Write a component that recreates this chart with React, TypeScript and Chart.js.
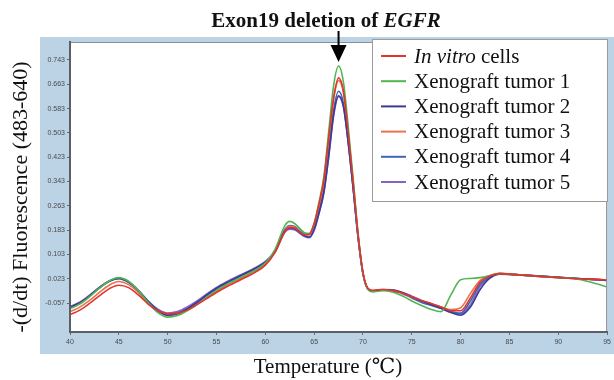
import React, { useEffect, useRef } from "react";
import { Chart, registerables } from "chart.js";

Chart.register(...registerables);

const temps = [40, 41, 42, 43, 44, 45, 46, 47, 48, 49, 50, 51, 52, 53, 54, 55, 56, 57, 58, 59, 60, 61, 62, 62.5, 63, 64, 64.5, 65, 65.5, 66, 66.5, 67, 67.5, 68, 68.5, 69, 69.5, 70, 70.5, 71, 72, 73, 74, 75, 76, 77, 78, 79, 80, 81, 82, 83, 84, 86, 88, 90, 92, 94, 95];

const inVitro = [-0.095, -0.080, -0.058, -0.033, -0.010, 0.002, -0.006, -0.030, -0.060, -0.082, -0.092, -0.090, -0.080, -0.062, -0.042, -0.022, -0.004, 0.012, 0.028, 0.045, 0.068, 0.110, 0.178, 0.192, 0.190, 0.168, 0.170, 0.205, 0.270, 0.350, 0.490, 0.620, 0.684, 0.640, 0.500, 0.340, 0.170, 0.045, -0.008, -0.015, -0.012, -0.015, -0.024, -0.036, -0.048, -0.058, -0.070, -0.082, -0.082, -0.040, 0.012, 0.032, 0.040, 0.036, 0.031, 0.027, 0.023, 0.021, 0.019];

const tumor1 = [-0.075, -0.060, -0.036, -0.008, 0.016, 0.027, 0.015, -0.015, -0.055, -0.088, -0.103, -0.098, -0.082, -0.062, -0.038, -0.015, 0.004, 0.020, 0.036, 0.052, 0.075, 0.120, 0.198, 0.212, 0.205, 0.175, 0.172, 0.205, 0.275, 0.360, 0.510, 0.660, 0.723, 0.670, 0.520, 0.350, 0.170, 0.040, -0.012, -0.020, -0.016, -0.020, -0.033, -0.050, -0.065, -0.078, -0.085, -0.030, 0.020, 0.024, 0.027, 0.033, 0.040, 0.036, 0.031, 0.027, 0.022, 0.006, -0.004];

const tumor2 = [-0.070, -0.056, -0.033, -0.006, 0.016, 0.025, 0.013, -0.016, -0.052, -0.082, -0.097, -0.092, -0.076, -0.055, -0.030, -0.008, 0.010, 0.026, 0.042, 0.058, 0.078, 0.115, 0.180, 0.190, 0.188, 0.165, 0.160, 0.185, 0.240, 0.310, 0.430, 0.565, 0.625, 0.590, 0.470, 0.320, 0.160, 0.040, -0.010, -0.018, -0.013, -0.014, -0.022, -0.036, -0.050, -0.062, -0.074, -0.088, -0.097, -0.070, -0.012, 0.025, 0.038, 0.036, 0.032, 0.028, 0.024, 0.020, 0.017];

const tumor3 = [-0.085, -0.070, -0.048, -0.022, 0.002, 0.014, 0.004, -0.022, -0.056, -0.082, -0.095, -0.092, -0.080, -0.060, -0.038, -0.018, 0.000, 0.016, 0.032, 0.048, 0.070, 0.112, 0.182, 0.196, 0.193, 0.168, 0.168, 0.200, 0.262, 0.340, 0.480, 0.615, 0.675, 0.635, 0.495, 0.335, 0.165, 0.042, -0.010, -0.017, -0.013, -0.015, -0.024, -0.037, -0.050, -0.060, -0.070, -0.078, -0.072, -0.025, 0.018, 0.034, 0.041, 0.036, 0.031, 0.027, 0.023, 0.021, 0.019];

const tumor4 = [-0.072, -0.058, -0.035, -0.008, 0.014, 0.024, 0.012, -0.015, -0.050, -0.080, -0.095, -0.090, -0.075, -0.055, -0.032, -0.010, 0.008, 0.024, 0.040, 0.055, 0.075, 0.115, 0.185, 0.198, 0.195, 0.170, 0.168, 0.195, 0.250, 0.320, 0.450, 0.580, 0.640, 0.600, 0.470, 0.320, 0.160, 0.040, -0.010, -0.018, -0.014, -0.015, -0.025, -0.040, -0.055, -0.065, -0.075, -0.085, -0.090, -0.050, 0.005, 0.030, 0.040, 0.036, 0.032, 0.028, 0.024, 0.020, 0.018];

const tumor5 = [-0.068, -0.054, -0.031, -0.005, 0.015, 0.023, 0.011, -0.016, -0.050, -0.077, -0.090, -0.085, -0.070, -0.050, -0.027, -0.005, 0.013, 0.029, 0.044, 0.060, 0.080, 0.112, 0.176, 0.186, 0.184, 0.162, 0.158, 0.182, 0.238, 0.305, 0.425, 0.560, 0.622, 0.588, 0.468, 0.318, 0.158, 0.040, -0.010, -0.018, -0.012, -0.013, -0.021, -0.034, -0.048, -0.060, -0.072, -0.085, -0.093, -0.062, -0.002, 0.028, 0.039, 0.036, 0.032, 0.028, 0.024, 0.021, 0.018];

const seriesNames = ["In vitro cells", "Xenograft tumor 1", "Xenograft tumor 2", "Xenograft tumor 3", "Xenograft tumor 4", "Xenograft tumor 5"];
const seriesValues = [inVitro, tumor1, tumor2, tumor3, tumor4, tumor5];
const seriesColors = ["#e0352e", "#52b552", "#3d3a96", "#e8744f", "#3f66b6", "#8465c2"];

const yTicks = [-0.057, 0.023, 0.103, 0.183, 0.263, 0.343, 0.423, 0.503, 0.583, 0.663, 0.743];
const xTicks = [40, 45, 50, 55, 60, 65, 70, 75, 80, 85, 90, 95];

const titleText = "Exon19 deletion of ";
const titleItalic = "EGFR";
const xTitle = "Temperature (\u2103)";
const yTitle = "-(d/dt) Fluorescence (483-640)";
const arrowTemp = 67.5;

const SERIF = "'Liberation Serif', 'DejaVu Serif', serif";

const decorPlugin = {
  id: "decor",
  beforeDraw(chart: any) {
    const { ctx, chartArea } = chart;
    ctx.save();
    ctx.fillStyle = "#ffffff";
    ctx.fillRect(0, 0, chart.width, chart.height);
    ctx.fillStyle = "#bcd3e6";
    ctx.fillRect(40, 37, chart.width - 40, 317);
    ctx.fillStyle = "#ffffff";
    ctx.fillRect(chartArea.left, chartArea.top, chartArea.right - chartArea.left, chartArea.bottom - chartArea.top);
    ctx.restore();
  },
  afterDraw(chart: any) {
    const { ctx, chartArea, scales } = chart;
    ctx.save();
    // plot border
    ctx.strokeStyle = "#8a9099";
    ctx.lineWidth = 1;
    ctx.strokeRect(chartArea.left + 0.5, chartArea.top + 0.5, chartArea.right - chartArea.left - 1, chartArea.bottom - chartArea.top - 1);
    ctx.strokeStyle = "#5a5f66";
    ctx.lineWidth = 2;
    ctx.beginPath();
    ctx.moveTo(chartArea.left, chartArea.top);
    ctx.lineTo(chartArea.left, chartArea.bottom);
    ctx.lineTo(chartArea.right, chartArea.bottom);
    ctx.stroke();

    // title
    ctx.fillStyle = "#111";
    ctx.textBaseline = "alphabetic";
    ctx.font = `bold 21px ${SERIF}`;
    const w1 = ctx.measureText(titleText).width;
    ctx.font = `italic bold 21px ${SERIF}`;
    const w2 = ctx.measureText(titleItalic).width;
    const tx = 326 - (w1 + w2) / 2;
    ctx.font = `bold 21px ${SERIF}`;
    ctx.textAlign = "left";
    ctx.fillText(titleText, tx, 27);
    ctx.font = `italic bold 21px ${SERIF}`;
    ctx.fillText(titleItalic, tx + w1, 27);

    // arrow
    const ax = scales.x.getPixelForValue(arrowTemp);
    ctx.strokeStyle = "#000";
    ctx.lineWidth = 2;
    ctx.beginPath();
    ctx.moveTo(ax, 31);
    ctx.lineTo(ax, 47);
    ctx.stroke();
    ctx.fillStyle = "#000";
    ctx.beginPath();
    ctx.moveTo(ax - 8, 45);
    ctx.lineTo(ax + 8, 45);
    ctx.lineTo(ax, 62);
    ctx.closePath();
    ctx.fill();

    // legend
    const lx = 372, ly = 39, lw = 236, lh = 163;
    ctx.fillStyle = "#ffffff";
    ctx.fillRect(lx, ly, lw, lh);
    ctx.strokeStyle = "#9a9a9a";
    ctx.lineWidth = 1;
    ctx.strokeRect(lx + 0.5, ly + 0.5, lw - 1, lh - 1);
    ctx.textBaseline = "middle";
    ctx.textAlign = "left";
    seriesNames.forEach((name, i) => {
      const cy = 56 + i * 25.2;
      ctx.strokeStyle = seriesColors[i];
      ctx.lineWidth = 2;
      ctx.beginPath();
      ctx.moveTo(381, cy);
      ctx.lineTo(406, cy);
      ctx.stroke();
      ctx.fillStyle = "#111";
      if (i === 0) {
        ctx.font = `italic 21px ${SERIF}`;
        const it = "In vitro";
        ctx.fillText(it, 414, cy + 1);
        const iw = ctx.measureText(it).width;
        ctx.font = `21px ${SERIF}`;
        ctx.fillText(" cells", 414 + iw, cy + 1);
      } else {
        ctx.font = `21px ${SERIF}`;
        ctx.fillText(name, 414, cy + 1);
      }
    });

    // axis titles
    ctx.fillStyle = "#111";
    ctx.textAlign = "center";
    ctx.textBaseline = "middle";
    ctx.font = `21px ${SERIF}`;
    ctx.fillText(xTitle, 328, 367);
    ctx.translate(21, 197);
    ctx.rotate(-Math.PI / 2);
    ctx.font = `22px ${SERIF}`;
    ctx.fillText(yTitle, 0, 0);
    ctx.restore();
  },
};

export default function App() {
  const ref = useRef<HTMLCanvasElement | null>(null);
  useEffect(() => {
    if (!ref.current) return;
    const datasets = seriesValues.map((vals, i) => ({
      label: seriesNames[i],
      data: temps.map((t, j) => ({ x: t, y: vals[j] })),
      borderColor: seriesColors[i],
      backgroundColor: seriesColors[i],
      borderWidth: 1.6,
      pointRadius: 0,
      cubicInterpolationMode: "monotone" as const,
      fill: false,
    }));
    const chart = new Chart(ref.current, {
      type: "line",
      data: { datasets },
      options: {
        animation: false,
        responsive: false,
        devicePixelRatio: 1,
        layout: { padding: { left: 40, top: 42, right: 3, bottom: 28 } },
        plugins: { legend: { display: false }, tooltip: { enabled: false }, title: { display: false } },
        scales: {
          x: {
            type: "linear",
            min: 40,
            max: 95,
            afterBuildTicks: (scale: any) => {
              scale.ticks = xTicks.map((v) => ({ value: v }));
            },
            afterFit: (scale: any) => {
              scale.height = 20;
            },
            ticks: {
              color: "#4a4a4a",
              font: { size: 7, family: "'Liberation Sans', Arial, sans-serif" },
              padding: 3,
              maxRotation: 0,
              autoSkip: false,
              callback: (v: any) => String(v),
            },
            grid: { drawOnChartArea: false, drawTicks: true, tickLength: 3, color: "#6a6a6a" },
            border: { display: true, color: "#5a5f66", width: 2 },
          },
          y: {
            type: "linear",
            min: -0.152,
            max: 0.802,
            afterBuildTicks: (scale: any) => {
              scale.ticks = yTicks.map((v) => ({ value: v }));
            },
            afterFit: (scale: any) => {
              scale.width = 30;
            },
            ticks: {
              color: "#4a4a4a",
              font: { size: 7, family: "'Liberation Sans', Arial, sans-serif" },
              padding: 2,
              autoSkip: false,
              callback: (v: any) => Number(v).toFixed(3),
            },
            grid: { drawOnChartArea: false, drawTicks: true, tickLength: 3, color: "#6a6a6a" },
            border: { display: true, color: "#5a5f66", width: 2 },
          },
        },
      },
      plugins: [decorPlugin],
    });
    return () => chart.destroy();
  }, []);
  return (
    <div style={{ position: "fixed", left: 0, top: 0, width: 614, height: 380 }}>
      <canvas ref={ref} width={614} height={380} style={{ display: "block", width: 614, height: 380 }} />
    </div>
  );
}
